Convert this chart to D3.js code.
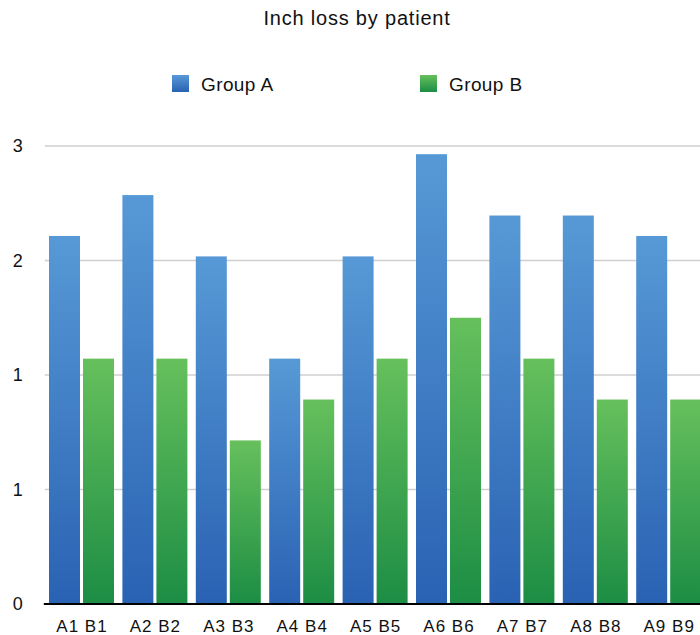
<!DOCTYPE html>
<html>
<head>
<meta charset="utf-8">
<script src="https://cdn.jsdelivr.net/npm/d3@7"></script>
<style>
  html, body { margin: 0; padding: 0; background: #fff; }
  svg { display: block; }
  text { font-family: "Liberation Sans", Arial, Helvetica, sans-serif; fill: #111; }
</style>
</head>
<body>
<svg id="chart" width="700" height="635"></svg>
<script>
// Inch loss per patient, two groups
const patients = ["1", "2", "3", "4", "5", "6", "7", "8", "9"];
const groupA = [2.25, 2.5, 2.125, 1.5, 2.125, 2.75, 2.375, 2.375, 2.25];
const groupB = [1.5, 1.5, 1.0, 1.25, 1.5, 1.75, 1.5, 1.25, 1.25];
const seriesNames = ["Group A", "Group B"];
const yTicks = [0, 0.7, 1.4, 2.1, 2.8];

const svg = d3.select("#chart");
const W = 700, H = 635;
const margin = { top: 146, right: -5.4, bottom: 31, left: 44.8 };
const innerW = W - margin.left - margin.right;
const innerH = H - margin.top - margin.bottom;

// gradients
const defs = svg.append("defs");
const grads = [
  { id: "gA", top: "#5799d6", bottom: "#2a62b3" },
  { id: "gB", top: "#66c05c", bottom: "#1c8d44" }
];
grads.forEach(g => {
  const lg = defs.append("linearGradient").attr("id", g.id)
    .attr("x1", 0).attr("y1", 0).attr("x2", 0).attr("y2", 1);
  lg.append("stop").attr("offset", "0%").attr("stop-color", g.top);
  lg.append("stop").attr("offset", "100%").attr("stop-color", g.bottom);
});

const x0 = d3.scaleBand().domain(patients).range([0, innerW]).paddingInner(0).paddingOuter(0);
const y = d3.scaleLinear().domain([0, 2.8]).range([innerH, 0]);

const g = svg.append("g").attr("transform", `translate(${margin.left},${margin.top})`);

// gridlines
g.append("g").selectAll("line").data(yTicks.filter(t => t > 0)).join("line")
  .attr("x1", 0).attr("x2", W - margin.left)
  .attr("y1", d => y(d)).attr("y2", d => y(d))
  .attr("stroke", "#cfcfcf").attr("stroke-width", 1.5);

// y axis labels (rounded to whole inches)
const yAxis = d3.axisLeft(y).tickValues(yTicks).tickSize(0).tickPadding(22)
  .tickFormat(d => d3.format(".0f")(d));
const ya = g.append("g").call(yAxis);
ya.select(".domain").remove();
ya.selectAll("text").attr("font-size", 18).attr("fill", "#111")
  .style("font-family", "'Liberation Sans', Arial, sans-serif");

// bars
const pad = 4.2, barW = 31, gapAB = 3;
const rows = patients.map((p, i) => ({ p, a: groupA[i], b: groupB[i] }));
const grp = g.append("g").selectAll("g").data(rows).join("g")
  .attr("transform", d => `translate(${x0(d.p)},0)`);
grp.append("rect")
  .attr("x", pad).attr("width", barW)
  .attr("y", d => y(d.a)).attr("height", d => y(0) - y(d.a))
  .attr("fill", "url(#gA)");
grp.append("rect")
  .attr("x", pad + barW + gapAB).attr("width", barW)
  .attr("y", d => y(d.b)).attr("height", d => y(0) - y(d.b))
  .attr("fill", "url(#gB)");

// x labels
grp.append("text")
  .attr("x", pad + barW + gapAB / 2 + 0.5).attr("y", innerH + 28)
  .attr("text-anchor", "middle").attr("font-size", 17)
  .attr("letter-spacing", 1)
  .text(d => `A${d.p} B${d.p}`);

// baseline
g.append("line").attr("x1", -1).attr("x2", W - margin.left)
  .attr("y1", y(0)).attr("y2", y(0))
  .attr("stroke", "#000").attr("stroke-width", 2);

// title
svg.append("text").attr("x", 357).attr("y", 25).attr("text-anchor", "middle")
  .attr("font-size", 20).attr("letter-spacing", 0.8).text("Inch loss by patient");

// legend
const legendX = [172, 420];
const lg = svg.append("g").selectAll("g").data(seriesNames).join("g")
  .attr("transform", (d, i) => `translate(${legendX[i]},75)`);
lg.append("rect").attr("width", 17).attr("height", 17)
  .attr("fill", (d, i) => `url(#${grads[i].id})`);
lg.append("text").attr("x", 29).attr("y", 15.5).attr("font-size", 19)
  .attr("letter-spacing", 0.4).text(d => d);
</script>
</body>
</html>
